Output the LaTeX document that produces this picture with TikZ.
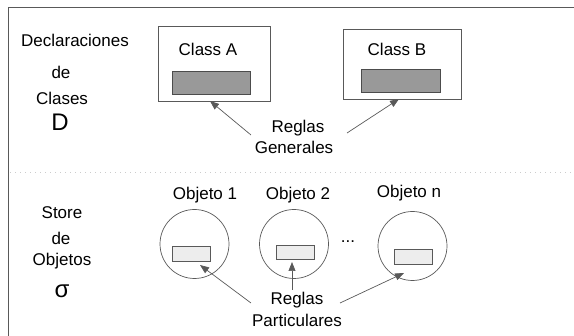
\documentclass[tikz,border=0pt]{standalone}
\usepackage{fontspec}
\setmainfont{Liberation Sans}
\usetikzlibrary{arrows.meta}
\definecolor{linegray}{gray}{0.35}
\definecolor{boxfill}{gray}{0.6}
\definecolor{objfill}{gray}{0.93}
\tikzset{
  lbl/.style={inner sep=0pt, font=\fontsize{17}{19}\selectfont, text=black},
  bigsym/.style={inner sep=0pt, font=\fontsize{24}{26}\selectfont, text=black},
  classbox/.style={draw=linegray, line width=0.8pt, fill=white},
  slot/.style={draw=black!70, line width=0.7pt, fill=boxfill},
  objslot/.style={draw=linegray, line width=0.6pt, fill=objfill},
  objcirc/.style={draw=linegray, line width=0.7pt, circle, inner sep=0pt, minimum size=69pt},
  ptr/.style={draw=linegray, line width=0.7pt, -{Triangle[length=9pt,width=7pt]}}
}
\begin{document}
\begin{tikzpicture}[x=1pt,y=-1pt]
\useasboundingbox (0,0) rectangle (574,336);
% frame
\draw[linegray, line width=1pt] (574,8) -- (8.5,8) -- (8.5,336);
\draw[gray!40, line width=0.6pt, dash pattern=on 1pt off 4pt] (10,172) -- (574,172);
% left labels top
\node[lbl] (decl) at (75,40) {Declaraciones};
\node[lbl] (de1) at (61,72) {de};
\node[lbl] (clases) at (62,98) {Clases};
\node[bigsym] (D) at (60,122) {D};
% left labels bottom
\node[lbl] (store) at (62,213) {Store};
\node[lbl] (de2) at (61,238) {de};
\node[lbl] (objetos) at (62,261) {Objetos};
\node[bigsym] (sigma) at (62,291) {σ};
% classes
\draw[classbox] (158,26) rectangle (270,101);
\coordinate (Abot) at (210,101);
\node[lbl] (classA) at (208,49) {Class A};
\draw[slot] (172.5,71) rectangle (250.5,94);
\draw[classbox] (343,29) rectangle (461,99);
\coordinate (Bbot) at (399,99);
\node[lbl] (classB) at (397,49) {Class B};
\draw[slot] (361,69) rectangle (440,92);
% reglas generales
\node[lbl] (reglasG) at (298,128) {Reglas};
\node[lbl] (generales) at (294,147) {Generales};
\draw[ptr] (251,135) -- (Abot);
\draw[ptr] (347,133) -- (Bbot);
% objects
\node[lbl] (o1) at (205,195) {Objeto 1};
\node[lbl] (o2) at (298,195) {Objeto 2};
\node[lbl] (on) at (409,193) {Objeto n};
\node[objcirc] (c1) at (194.5,244) {};
\node[objcirc] (c2) at (294,244) {};
\node[objcirc] (cn) at (412.5,246) {};
\draw[objslot] (172,246) rectangle (210,261);
\draw[objslot] (276,245) rectangle (314,259);
\draw[objslot] (394,249) rectangle (432,264);
\node[lbl] (dots) at (348,242) {...};
% reglas particulares
\node[lbl] (reglasP) at (297,300) {Reglas};
\node[lbl] (part) at (297,320) {Particulares};
\coordinate (t1) at (200,265);
\coordinate (t2) at (292,262);
\coordinate (tn) at (404,273);
\draw[ptr] (251,303) -- (t1);
\draw[ptr] (292,290) -- (t2);
\draw[ptr] (340,303) -- (tn);
\end{tikzpicture}
\end{document}
